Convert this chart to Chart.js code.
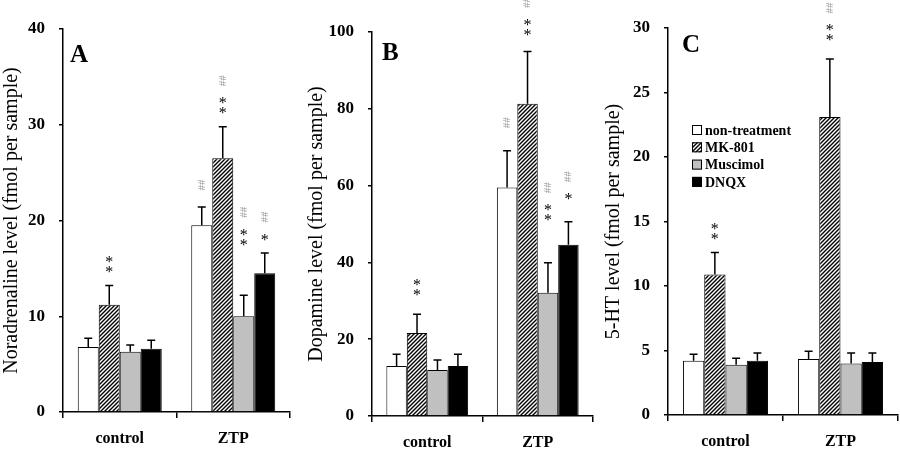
<!DOCTYPE html>
<html><head><meta charset="utf-8">
<script src="https://cdn.jsdelivr.net/npm/chart.js@4/dist/chart.umd.min.js"></script>
<style>
body{margin:0;background:#fff;}
#wrap{position:relative;width:900px;height:450px;}
canvas{position:absolute;top:0;}
</style></head><body>
<div id="wrap">
<canvas id="chartA" width="300" height="450" style="left:0"></canvas>
<canvas id="chartB" width="300" height="450" style="left:300px"></canvas>
<canvas id="chartC" width="300" height="450" style="left:600px"></canvas>
</div>
<script>
var groups = ['control', 'ZTP'];
var treatments = ['non-treatment', 'MK-801', 'Muscimol', 'DNQX'];

// rows follow treatments, columns follow groups
var noradrenaline    = [[6.8, 19.5], [11.2, 26.5], [6.3, 10.0], [6.6, 14.5]];
var noradrenalineSem = [[0.9, 1.9],  [2.0, 3.3],   [0.7, 2.2],  [0.9, 2.1]];
var noradrenalineStars  = [[0, 0], [2, 2], [0, 2], [0, 1]];
var noradrenalineHashes = [[0, 2], [0, 2], [0, 2], [0, 2]];

var dopamine    = [[13.0, 59.5], [21.6, 81.3], [12.0, 32.1], [13.0, 44.6]];
var dopamineSem = [[3.1, 9.6],   [4.9, 13.6],  [2.6, 7.8],   [3.1, 6.0]];
var dopamineStars  = [[0, 0], [2, 2], [0, 2], [0, 1]];
var dopamineHashes = [[0, 2], [0, 2], [0, 2], [0, 2]];

var serotonin    = [[4.2, 4.35], [10.9, 23.1], [3.9, 4.0], [4.2, 4.1]];
var serotoninSem = [[0.5, 0.6],  [1.7, 4.5],   [0.5, 0.8], [0.6, 0.7]];
var serotoninStars  = [[0, 0], [2, 2], [0, 0], [0, 0]];
var serotoninHashes = [[0, 0], [0, 2], [0, 0], [0, 0]];

var serif = 'Liberation Serif';

function hatch() {
  var c = document.createElement('canvas');
  c.width = 4; c.height = 4;
  var g = c.getContext('2d');
  g.fillStyle = '#fff';
  g.fillRect(0, 0, 4, 4);
  g.strokeStyle = '#000';
  g.lineWidth = 1.4;
  g.beginPath();
  g.moveTo(0, 4); g.lineTo(4, 0);
  g.moveTo(-1, 1); g.lineTo(1, -1);
  g.moveTo(3, 5); g.lineTo(5, 3);
  g.stroke();
  return g.createPattern(c, 'repeat');
}
var fills = ['#ffffff', hatch(), '#c0c0c0', '#000000'];

// error bars (upper half only)
var errorBars = {
  id: 'errorBars',
  afterDatasetsDraw: function (chart) {
    var ctx = chart.ctx, y = chart.scales.y;
    ctx.save();
    ctx.strokeStyle = '#000';
    ctx.lineWidth = 1.5;
    chart.data.datasets.forEach(function (ds, i) {
      chart.getDatasetMeta(i).data.forEach(function (bar, j) {
        var top = y.getPixelForValue(ds.data[j] + ds.sem[j]);
        ctx.beginPath();
        ctx.moveTo(bar.x, bar.y);
        ctx.lineTo(bar.x, top);
        ctx.moveTo(bar.x - 4, top);
        ctx.lineTo(bar.x + 4, top);
        ctx.stroke();
      });
    });
    ctx.restore();
  }
};

// ** and ## marks above the bars
var sigMarks = {
  id: 'sigMarks',
  afterDatasetsDraw: function (chart, args, opts) {
    var ctx = chart.ctx, y = chart.scales.y;
    ctx.save();
    ctx.textAlign = 'center';
    chart.data.datasets.forEach(function (ds, i) {
      chart.getDatasetMeta(i).data.forEach(function (bar, j) {
        var lift = (opts.lift[i] || [0, 0])[j];
        var yy = y.getPixelForValue(ds.data[j] + ds.sem[j]) - lift;
        var n = ds.stars[j];
        var cy = yy - 16;
        ctx.fillStyle = '#000';
        ctx.font = '16px ' + serif;
        ctx.textBaseline = 'alphabetic';
        for (var k = 0; k < n; k++) {
          ctx.fillText('*', bar.x, cy + 7.5 - k * 10);
        }
        if (ds.hashes[j]) {
          var hy = n ? cy - (n - 1) * 10 - 20 : yy - 22;
          ctx.save();
          ctx.translate(bar.x, hy);
          ctx.rotate(-Math.PI / 2);
          ctx.fillStyle = '#9a9a9a';
          ctx.font = '11px ' + serif;
          ctx.textBaseline = 'middle';
          ctx.fillText('##'.slice(0, ds.hashes[j]), 0, 0);
          ctx.restore();
        }
      });
    });
    ctx.restore();
  }
};

var panelLetter = {
  id: 'panelLetter',
  afterDraw: function (chart, args, opts) {
    var ctx = chart.ctx;
    ctx.save();
    ctx.fillStyle = '#000';
    ctx.font = 'bold 25px ' + serif;
    ctx.textAlign = 'left';
    ctx.textBaseline = 'alphabetic';
    ctx.fillText(opts.text, opts.x, opts.y);
    ctx.restore();
  }
};

var boxLegend = {
  id: 'boxLegend',
  afterDraw: function (chart, args, opts) {
    if (!opts.show) return;
    var ctx = chart.ctx;
    ctx.save();
    ctx.font = 'bold 14px ' + serif;
    ctx.textBaseline = 'middle';
    ctx.textAlign = 'left';
    chart.data.datasets.forEach(function (ds, i) {
      var cy = opts.y + i * 17.3;
      ctx.fillStyle = ds.backgroundColor;
      ctx.fillRect(opts.x, cy - 5, 10, 10);
      ctx.strokeStyle = '#000';
      ctx.lineWidth = 1;
      ctx.strokeRect(opts.x + 0.5, cy - 4.5, 9, 9);
      ctx.fillStyle = '#000';
      ctx.fillText(ds.label, opts.x + 13, cy + 1);
    });
    ctx.restore();
  }
};

function makeChart(id, means, sems, stars, hashes, yMax, yStep, yTitle, L) {
  var datasets = treatments.map(function (t, i) {
    return {
      label: t,
      data: means[i],
      sem: sems[i],
      stars: stars[i],
      hashes: hashes[i],
      backgroundColor: fills[i],
      borderColor: '#000',
      borderWidth: 1,
      barPercentage: 1,
      categoryPercentage: 0.74
    };
  });
  return new Chart(document.getElementById(id), {
    type: 'bar',
    data: { labels: groups, datasets: datasets },
    options: {
      responsive: false,
      animation: false,
      devicePixelRatio: 1,
      layout: { padding: { top: L.top, right: L.right, bottom: 0, left: 0 } },
      plugins: {
        legend: { display: false },
        tooltip: { enabled: false },
        sigMarks: { lift: L.lift },
        panelLetter: { text: L.letter, x: L.lx, y: L.ly },
        boxLegend: { show: !!L.legend, x: 92, y: 130 }
      },
      scales: {
        x: {
          grid: { offset: true, drawOnChartArea: false, color: '#000', lineWidth: 1.5, tickLength: 6 },
          border: { color: '#000', width: 1.5 },
          ticks: { color: '#000', padding: 11, font: { family: serif, size: 16, weight: 'bold' } },
          afterFit: function (s) { s.height = L.bottom; }
        },
        y: {
          min: 0, max: yMax,
          grid: { drawOnChartArea: false, color: '#000', lineWidth: 1.5, tickLength: 4 },
          border: { color: '#000', width: 1.5 },
          ticks: { stepSize: yStep, color: '#000', padding: 14, font: { family: serif, size: 17, weight: 'bold' } },
          title: { display: true, text: yTitle, color: '#000', font: { family: serif, size: 20 }, padding: { top: L.tpad, bottom: 0 } },
          afterFit: function (s) { s.width = L.left; }
        }
      }
    },
    plugins: [errorBars, sigMarks, panelLetter, boxLegend]
  });
}

makeChart('chartA', noradrenaline, noradrenalineSem, noradrenalineStars, noradrenalineHashes,
  40, 10, 'Noradrenaline level (fmol per sample)',
  { top: 29, right: 10, bottom: 38, left: 63, tpad: 0, letter: 'A', lx: 70, ly: 62,
    lift: { 2: [0, 37] } });

makeChart('chartB', dopamine, dopamineSem, dopamineStars, dopamineHashes,
  100, 20, 'Dopamine level (fmol per sample)',
  { top: 32, right: 7, bottom: 34, left: 72, tpad: 5, letter: 'B', lx: 82, ly: 60,
    lift: { 0: [0, 6], 1: [6, 3], 2: [0, 29], 3: [0, 9] } });

makeChart('chartC', serotonin, serotoninSem, serotoninStars, serotoninHashes,
  30, 5, '5-HT level (fmol per sample)',
  { top: 28, right: 2, bottom: 35, left: 68, tpad: 2, letter: 'C', lx: 82, ly: 52,
    lift: { 1: [0, 5] }, legend: true });
</script>
</body></html>
